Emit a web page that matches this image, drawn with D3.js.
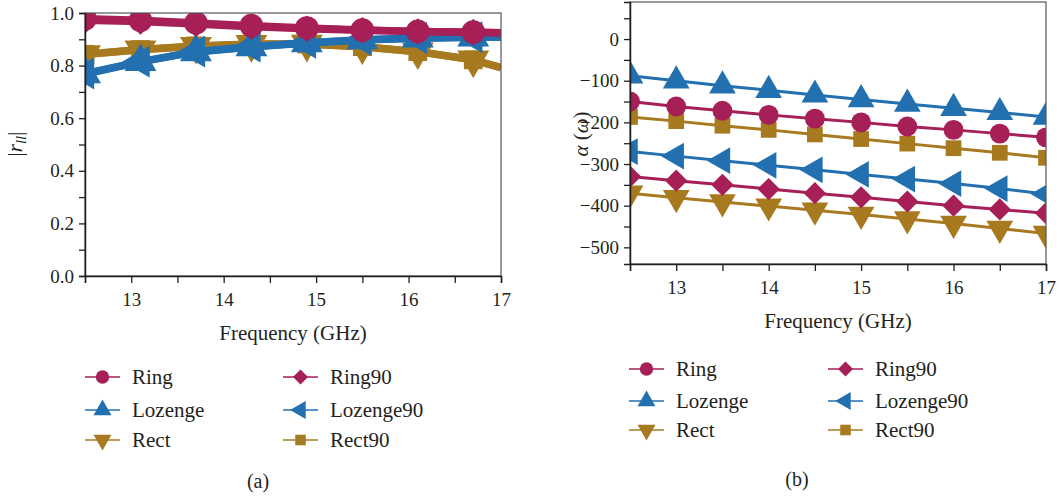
<!DOCTYPE html>
<html>
<head>
<meta charset="utf-8">
<script src="https://cdn.jsdelivr.net/npm/d3@7"></script>
<style>
  body { margin: 0; background: #fff; }
</style>
</head>
<body>
<svg id="chart" width="1059" height="496" font-family='"Liberation Serif", "Times New Roman", serif'></svg>
<script>
// series names (legend order)
const seriesNames = ['Ring', 'Lozenge', 'Rect', 'Ring90', 'Lozenge90', 'Rect90'];
const colors = { Ring: '#a61f57', Ring90: '#a61f57', Lozenge: '#2370b0', Lozenge90: '#2370b0', Rect: '#a87a20', Rect90: '#a87a20' };
const FONT = '"Liberation Serif", "Times New Roman", serif';
const INK = '#231f20';

// panel (a): |r_ll|
const freqA = [12.5, 13.1, 13.7, 14.3, 14.9, 15.5, 16.1, 16.7, 17];
const ringA      = [0.978, 0.972, 0.962, 0.952, 0.943, 0.935, 0.930, 0.927, 0.925];
const ring90A    = [0.972, 0.968, 0.958, 0.948, 0.940, 0.934, 0.930, 0.927, 0.925];
const lozengeA   = [0.768, 0.814, 0.852, 0.871, 0.886, 0.897, 0.904, 0.908, 0.909];
const lozenge90A = [0.770, 0.815, 0.853, 0.872, 0.887, 0.898, 0.905, 0.908, 0.909];
const rectA      = [0.842, 0.860, 0.874, 0.881, 0.882, 0.872, 0.853, 0.822, 0.792];
const rect90A    = [0.843, 0.861, 0.875, 0.882, 0.882, 0.872, 0.853, 0.822, 0.792];
const yTicksA = [0, 0.2, 0.4, 0.6, 0.8, 1.0];

// panel (b): alpha(omega)
const freqB = [12.5, 13, 13.5, 14, 14.5, 15, 15.5, 16, 16.5, 17];
const ringB      = [-150, -162, -172, -182, -191, -200, -210, -218, -227, -236];
const lozengeB   = [-88, -100, -112, -123, -134, -145, -156, -166, -176, -187];
const rectB      = [-370, -381, -391, -401, -411, -421, -432, -443, -455, -467];
const ring90B    = [-330, -340, -350, -360, -370, -380, -390, -400, -409, -418];
const lozenge90B = [-270, -281, -292, -303, -314, -325, -336, -347, -359, -372];
const rect90B    = [-187, -197, -208, -218, -229, -240, -251, -262, -273, -285];
const yTicksB = [0, -100, -200, -300, -400, -500];
const xTicks = [13, 14, 15, 16, 17];

const svg = d3.select('#chart');

// marker shapes
const shape = {
    Ring: { type: d3.symbolCircle, rot: 0, k: 1 },
    Ring90: { type: d3.symbolSquare, rot: 45, k: 0.8 },
    Lozenge: { type: d3.symbolTriangle, rot: 0, k: 1 },
    Lozenge90: { type: d3.symbolTriangle, rot: -90, k: 1 },
    Rect: { type: d3.symbolTriangle, rot: 180, k: 1 },
    Rect90: { type: d3.symbolSquare, rot: 0, k: 0.8 }
};

function drawMarker(g, name, x, y, size) {
    const s = shape[name];
    g.append('path')
        .attr('d', d3.symbol().type(s.type).size(size * s.k)())
        .attr('transform', `translate(${x},${y}) rotate(${s.rot})`)
        .attr('fill', colors[name]);
}

function panel(opt) {
    const g = svg.append('g');
    const x = d3.scaleLinear().domain([12.5, 17]).range([opt.left, opt.right]);
    const y = d3.scaleLinear().domain(opt.yDomain).range([opt.bottom, opt.top]);

    const clipId = 'clip-' + opt.id;
    svg.append('clipPath').attr('id', clipId).append('rect')
        .attr('x', opt.left).attr('y', opt.top)
        .attr('width', opt.right - opt.left).attr('height', opt.bottom - opt.top);

    const plot = g.append('g').attr('clip-path', `url(#${clipId})`);
    const line = d3.line().x(d => x(d[0])).y(d => y(d[1]));

    opt.order.forEach(name => {
        const pts = opt.freq.map((f, i) => [f, opt.data[name][i]]);
        plot.append('path').datum(pts)
            .attr('d', line)
            .attr('fill', 'none')
            .attr('stroke', colors[name])
            .attr('stroke-width', opt.lineWidth)
            .attr('stroke-linejoin', 'round');
        pts.filter(p => opt.markAt(p[0])).forEach(p => drawMarker(plot, name, x(p[0]), y(p[1]), opt.markSize));
    });

    // frame
    g.append('rect')
        .attr('x', opt.left).attr('y', opt.top)
        .attr('width', opt.right - opt.left).attr('height', opt.bottom - opt.top)
        .attr('fill', 'none').attr('stroke', '#555').attr('stroke-width', 1.2);

    // axes
    const minorX = d3.range(12.5, 17.01, 0.5);
    g.append('g').attr('transform', `translate(0,${opt.bottom})`)
        .call(d3.axisBottom(x).tickValues(minorX).tickSize(7).tickFormat(d => xTicks.includes(d) ? d : ''))
        .attr('font-family', FONT)
        .call(a => a.select('.domain').attr('stroke', INK).attr('stroke-width', 1.5))
        .call(a => a.selectAll('line').attr('stroke', INK).attr('stroke-width', 1.3))
        .call(a => a.selectAll('text').attr('font-size', 19).attr('dy', '1.05em').attr('fill', INK));

    g.append('g').attr('transform', `translate(${opt.left},0)`)
        .call(d3.axisLeft(y).tickValues(opt.yMinor).tickSize(6)
            .tickFormat(d => opt.yTicks.some(t => Math.abs(t - d) < 1e-9) ? opt.fmt(d) : ''))
        .attr('font-family', FONT)
        .call(a => a.select('.domain').attr('stroke', INK).attr('stroke-width', 1.5))
        .call(a => a.selectAll('line').attr('stroke', INK).attr('stroke-width', 1.3))
        .call(a => a.selectAll('text').attr('font-size', 19).attr('x', -11).attr('fill', INK));

    g.append('text')
        .attr('x', (opt.left + opt.right) / 2).attr('y', opt.bottom + 64)
        .attr('text-anchor', 'middle').attr('font-size', 21).attr('fill', INK)
        .text('Frequency (GHz)');

    return g;
}

const dataA = { Ring: ringA, Ring90: ring90A, Lozenge: lozengeA, Lozenge90: lozenge90A, Rect: rectA, Rect90: rect90A };
const gA = panel({
    id: 'a', left: 85, right: 501, top: 13, bottom: 276,
    yDomain: [0, 1], yTicks: yTicksA, yMinor: d3.range(0, 1.001, 0.1).map(v => +v.toFixed(1)),
    fmt: d3.format('.1f'),
    freq: freqA, data: dataA,
    order: ['Rect', 'Rect90', 'Lozenge', 'Lozenge90', 'Ring90', 'Ring'],
    lineWidth: 7.5, markSize: 440, markAt: f => f < 16.9
});
gA.append('text')
    .attr('transform', 'translate(22,144) rotate(-90)')
    .attr('text-anchor', 'middle').attr('font-size', 21).attr('fill', INK)
    .call(t => {
        t.append('tspan').text('|');
        t.append('tspan').attr('font-style', 'italic').text('r');
        t.append('tspan').attr('font-style', 'italic').attr('font-size', 15).attr('dy', 4).text('ll');
        t.append('tspan').attr('dy', -4).text('|');
    });

const dataB = { Ring: ringB, Ring90: ring90B, Lozenge: lozengeB, Lozenge90: lozenge90B, Rect: rectB, Rect90: rect90B };
const gB = panel({
    id: 'b', left: 630, right: 1046, top: 2, bottom: 264,
    yDomain: [-540, 89], yTicks: yTicksB, yMinor: d3.range(-500, 51, 50),
    fmt: d => d3.format('d')(d).replace('-', '\u2212'),
    freq: freqB, data: dataB,
    order: ['Rect', 'Ring90', 'Lozenge90', 'Rect90', 'Ring', 'Lozenge'],
    lineWidth: 3, markSize: 310, markAt: () => true
});
gB.append('text')
    .attr('transform', 'translate(588,134) rotate(-90)')
    .attr('text-anchor', 'middle').attr('font-size', 21).attr('fill', INK)
    .call(t => {
        t.append('tspan').attr('font-style', 'italic').text('\u03b1');
        t.append('tspan').text(' (');
        t.append('tspan').attr('font-style', 'italic').text('\u03c9');
        t.append('tspan').text(')');
    });

// legends
function legend(cols, rows) {
    const lg = svg.append('g');
    seriesNames.forEach((name, i) => {
        const cx = cols[Math.floor(i / 3)];
        const cy = rows[i % 3];
        lg.append('line')
            .attr('x1', cx).attr('x2', cx + 35).attr('y1', cy).attr('y2', cy)
            .attr('stroke', colors[name]).attr('stroke-width', 1.5);
        drawMarker(lg, name, cx + 17.5, cy, 140);
        lg.append('text').attr('x', cx + 47).attr('y', cy + 7)
            .attr('font-size', 21).attr('fill', INK).text(name);
    });
}
legend([85, 283], [377, 410, 440]);
legend([629, 828], [369, 401, 430]);

svg.append('text').attr('x', 258).attr('y', 488).attr('text-anchor', 'middle').attr('font-size', 20).attr('fill', INK).text('(a)');
svg.append('text').attr('x', 797).attr('y', 486).attr('text-anchor', 'middle').attr('font-size', 20).attr('fill', INK).text('(b)');
</script>
</body>
</html>
